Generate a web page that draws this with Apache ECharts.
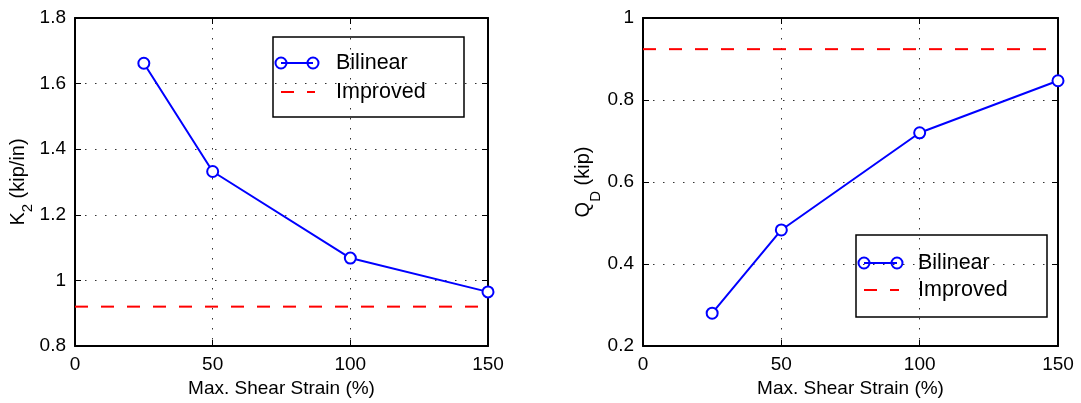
<!DOCTYPE html>
<html><head><meta charset="utf-8">
<script src="https://cdn.jsdelivr.net/npm/echarts@6/dist/echarts.min.js"></script>
<style>html,body{margin:0;padding:0;background:#fff}#c{width:1081px;height:403px}</style>
</head><body><div id="c"></div>
<script>
const strain = [25, 50, 100, 150];
const k2Bilinear = [1.662, 1.332, 1.068, 0.965];
const k2Improved = 0.92;
const qdBilinear = [0.28, 0.483, 0.72, 0.847];
const qdImproved = 0.924;
const xRange = [0, 150, 50];
const k2Range = [0.8, 1.8, 0.2];
const qdRange = [0.2, 1.0, 0.2];
const legendNames = ['Bilinear', 'Improved'];
const xName = 'Max. Shear Strain (%)';

const FONT = '"Liberation Sans", Arial, Helvetica, sans-serif';
const FS = 19;
const BLUE = '#0000ff', RED = '#ff0000';

const chart = echarts.init(document.getElementById('c'), null, {renderer: 'canvas'});

const grids = [
  {left: 75, top: 18, width: 413, height: 328},
  {left: 643, top: 18, width: 415, height: 328}
];

function axisCommon(showLabels) {
  return {
    axisLine: {show: true, onZero: false, lineStyle: {color: '#000', width: 2}},
    axisTick: {show: true, inside: true, length: 6, lineStyle: {color: '#000', width: 1}},
    axisLabel: {show: showLabels, color: '#000', fontFamily: FONT, fontSize: FS, margin: 9},
    splitLine: {show: showLabels, lineStyle: {color: '#333', width: 1, type: [1.5, 8.5]}}
  };
}

const xAxes = [], yAxes = [];
[0, 1].forEach(g => {
  xAxes.push(Object.assign({type: 'value', gridIndex: g, position: 'bottom', min: xRange[0], max: xRange[1], interval: xRange[2],
    name: xName, nameLocation: 'middle', nameGap: 33, nameTextStyle: {color: '#000', fontFamily: FONT, fontSize: FS}}, axisCommon(true)));
  xAxes.push(Object.assign({type: 'value', gridIndex: g, position: 'top', min: xRange[0], max: xRange[1], interval: xRange[2]}, axisCommon(false)));
});
const yr = [k2Range, qdRange];
const yNames = ['{n|K}{s|2}{n| (kip/in)}', '{n|Q}{s|D}{n| (kip)}'];
const nameGaps = [37, 34];
const subStyles = [
  {fontFamily: FONT, fontSize: 15, color: '#000', lineHeight: 27.5, verticalAlign: 'bottom'},
  {fontFamily: FONT, fontSize: 15, color: '#000', lineHeight: 30, verticalAlign: 'bottom'}
];
[0, 1].forEach(g => {
  yAxes.push(Object.assign({type: 'value', gridIndex: g, position: 'left', min: yr[g][0], max: yr[g][1], interval: yr[g][2],
    name: yNames[g], nameLocation: 'middle', nameGap: nameGaps[g], nameRotate: 90,
    nameTextStyle: {color: '#000', fontFamily: FONT, fontSize: 20,
      rich: {
        n: {fontFamily: FONT, fontSize: 20, color: '#000', lineHeight: 20, verticalAlign: 'top'},
        s: subStyles[g]
      }}}, axisCommon(true)));
  yAxes.push(Object.assign({type: 'value', gridIndex: g, position: 'right', min: yr[g][0], max: yr[g][1], interval: yr[g][2]}, axisCommon(false)));
});

function bilinearSeries(g, vals) {
  return {
    name: legendNames[0], type: 'line', xAxisIndex: g * 2, yAxisIndex: g * 2,
    data: strain.map((s, i) => [s, vals[i]]),
    symbol: 'emptyCircle', symbolSize: 11, showSymbol: true,
    lineStyle: {color: BLUE, width: 2},
    itemStyle: {color: BLUE, borderColor: BLUE, borderWidth: 2},
    emphasis: {disabled: true}, animation: false, z: 3
  };
}
function improvedSeries(g, v) {
  return {
    name: legendNames[1], type: 'line', xAxisIndex: g * 2, yAxisIndex: g * 2,
    data: [[xRange[0], v], [xRange[1], v]],
    showSymbol: false, symbol: 'none',
    lineStyle: {color: RED, width: 2, type: [13, 13]},
    emphasis: {disabled: true}, animation: false, z: 2
  };
}

function legendGroup(x, y, w, h, r1, r2, cx1, cx2, tx) {
  const tf = '21.5px ' + FONT;
  return {
    type: 'group', x: x, y: y, z: 100,
    children: [
      {type: 'rect', shape: {x: 0, y: 0, width: w, height: h}, style: {fill: '#fff', stroke: '#000', lineWidth: 1.5}},
      {type: 'line', shape: {x1: cx1, y1: r1, x2: cx2, y2: r1}, style: {stroke: BLUE, lineWidth: 2}},
      {type: 'circle', shape: {cx: cx1, cy: r1, r: 5.5}, style: {fill: 'none', stroke: BLUE, lineWidth: 2}},
      {type: 'circle', shape: {cx: cx2, cy: r1, r: 5.5}, style: {fill: 'none', stroke: BLUE, lineWidth: 2}},
      {type: 'text', x: tx, y: r1, style: {text: legendNames[0], font: tf, fill: '#000', verticalAlign: 'middle'}},
      {type: 'line', shape: {x1: cx1, y1: r2, x2: cx2 + 2, y2: r2}, style: {stroke: RED, lineWidth: 2, lineDash: [13, 13]}},
      {type: 'text', x: tx, y: r2, style: {text: legendNames[1], font: tf, fill: '#000', verticalAlign: 'middle'}}
    ]
  };
}

chart.setOption({
  animation: false,
  backgroundColor: '#fff',
  grid: grids.map(g => Object.assign({containLabel: false}, g)),
  xAxis: xAxes,
  yAxis: yAxes,
  series: [
    improvedSeries(0, k2Improved),
    bilinearSeries(0, k2Bilinear),
    improvedSeries(1, qdImproved),
    bilinearSeries(1, qdBilinear)
  ],
  graphic: [
    legendGroup(273, 37, 191, 80, 26, 55, 8, 40, 63),
    legendGroup(856, 235, 191, 82, 28, 55, 8, 41, 62)
  ]
});
</script>
</body></html>
